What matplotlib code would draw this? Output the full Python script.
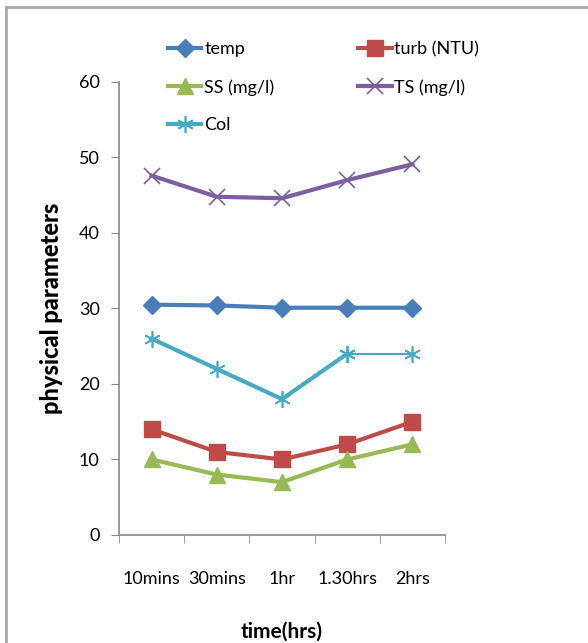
import matplotlib
matplotlib.use("Agg")
import matplotlib.pyplot as plt
from matplotlib.lines import Line2D

plt.rcParams['font.family'] = ['Lato', 'DejaVu Sans']

# time points and measured parameters
times = ['10mins', '30mins', '1hr', '1.30hrs', '2hrs']
temp = [30.5, 30.4, 30.1, 30.1, 30.1]
turb = [14.0, 11.0, 10.0, 12.0, 15.0]
ss = [10.0, 8.0, 7.0, 10.0, 12.0]
ts = [47.6, 44.8, 44.6, 47.0, 49.1]
col = [26.0, 22.0, 18.0, 24.0, 24.0]

fig = plt.figure(figsize=(5.88, 6.43), dpi=100)
ax = fig.add_axes([0.2024, 0.168, 0.5544, 0.7045])

x = list(range(len(times)))
h_temp, = ax.plot(x, temp, color='#4a7ebb', lw=3, marker='D', ms=9, label='temp')
h_turb, = ax.plot(x, turb, color='#be4b48', lw=3, marker='s', ms=11, label='turb (NTU)')
h_ss, = ax.plot(x, ss, color='#98b954', lw=3, marker='^', ms=11, label='SS (mg/l)')
h_ts, = ax.plot(x, ts, color='#7d5fa0', lw=3, marker='x', ms=11, mew=1.2, label='TS (mg/l)')
h_col, = ax.plot(x[:4], col[:4], color='#46aac5', lw=3, marker=(6, 2, 0), ms=12, mew=1.2, label='Col')
# last segment of Col is thinner
ax.plot(x[3:], col[3:], color='#46aac5', lw=1.5, marker=(6, 2, 0), ms=12, mew=1.2)

ax.set_xlim(-0.5, 4.5)
ax.set_ylim(0, 60)
ax.set_yticks(range(0, 61, 10))
ax.set_xticks(x)
ax.set_xticklabels(times, fontsize=13)
ax.set_xticks([i - 0.5 for i in range(6)], minor=True)
ax.tick_params(axis='x', which='major', length=0, pad=26)
ax.tick_params(axis='x', which='minor', length=6, direction='out', color='#888888')
ax.tick_params(axis='y', length=6, direction='out', color='#888888', labelsize=13, pad=8)
for s in ['top', 'right']:
    ax.spines[s].set_visible(False)
for s in ['left', 'bottom']:
    ax.spines[s].set_color('#888888')
    ax.spines[s].set_linewidth(1.2)

ax.set_ylabel('physical parameters', fontsize=17, fontweight='black', labelpad=11)
ax.set_xlabel('time(hrs)', fontsize=15, fontweight='bold', labelpad=25)

# row-wise legend: temp, turb / SS, TS / Col
fig.legend(handles=[h_temp, h_ss, h_col, h_turb, h_ts], ncol=2, frameon=False,
           loc='upper left', bbox_to_anchor=(0.258, 0.961), fontsize=13,
           handlelength=1.85, handletextpad=0.15, columnspacing=4.65, labelspacing=1.2)

# chart frame
fig.add_artist(Line2D([0.011, 0.011], [0, 0.989], color='#aaaaaa', lw=2, transform=fig.transFigure))
fig.add_artist(Line2D([0.011, 1.0], [0.989, 0.989], color='#aaaaaa', lw=2, transform=fig.transFigure))

fig.savefig('out.png', dpi=100)
